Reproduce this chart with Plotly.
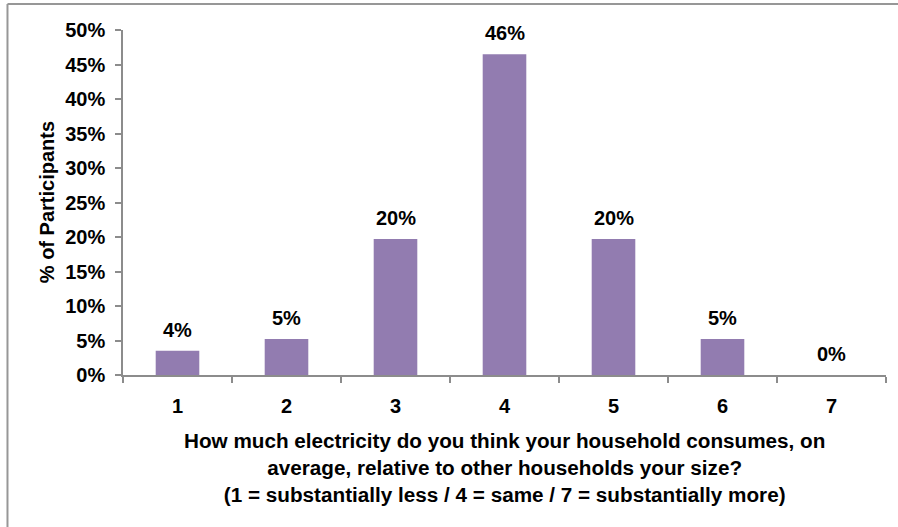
import plotly.graph_objects as go

categories = ["1", "2", "3", "4", "5", "6", "7"]
shares = [0.035, 0.052, 0.197, 0.465, 0.197, 0.052, 0.0]
labels = ["4%", "5%", "20%", "46%", "20%", "5%", "0%"]
y_ticks = [0, 0.05, 0.10, 0.15, 0.20, 0.25, 0.30, 0.35, 0.40, 0.45, 0.50]
y_tick_text = ["0%", "5%", "10%", "15%", "20%", "25%", "30%", "35%", "40%", "45%", "50%"]

FONT = "Liberation Sans, Arial, sans-serif"
BAR = "#927CB0"
AXIS = "#8C8C8C"

fig = go.Figure()
fig.add_trace(go.Bar(x=categories, y=shares, marker=dict(color=BAR, line=dict(width=0)),
                     hoverinfo="skip"))

for i, (v, t) in enumerate(zip(shares, labels)):
    fig.add_annotation(x=i, y=v, text=f"<b>{t}</b>", showarrow=False,
                       yanchor="middle", yshift=21,
                       font=dict(family=FONT, size=20, color="black"))

fig.add_annotation(
    x=0.5, y=-0.152, xref="paper", yref="paper", yanchor="top", xanchor="center",
    showarrow=False, align="center",
    text="<b>How much electricity do you think your household consumes, on<br>"
         "average, relative to other households your size?<br>"
         "(1 = substantially less / 4 = same / 7 = substantially more)</b>",
    font=dict(family=FONT, size=20.7, color="black"))

fig.add_annotation(
    x=-0.1, y=0.5, xref="paper", yref="paper", xanchor="center", yanchor="middle",
    showarrow=False, textangle=-90, text="<b>% of Participants</b>",
    font=dict(family=FONT, size=20, color="black"))

# outer frame (top and left edges visible)
fig.add_shape(type="line", xref="paper", yref="paper", x0=-0.1514, x1=1.06, y0=1.0754, y1=1.0754,
              line=dict(color="#979797", width=2))
fig.add_shape(type="line", xref="paper", yref="paper", x0=-0.1514, x1=-0.1514, y0=1.0754, y1=-0.5,
              line=dict(color="#979797", width=2))

fig.update_layout(
    width=898, height=527,
    margin=dict(l=123, r=12, t=30, b=152),
    paper_bgcolor="white", plot_bgcolor="white",
    bargap=0.6, showlegend=False,
    font=dict(family=FONT, size=20, color="black"),
)
fig.update_xaxes(
    type="category", showline=True, linecolor=AXIS, linewidth=1.5,
    ticks="outside", tickson="boundaries", ticklen=6, tickcolor=AXIS, tickwidth=1.5,
    tickfont=dict(family=FONT, size=20, color="black"),
    tickprefix="<b>", ticksuffix="</b>",
    ticklabelstandoff=12,
    showgrid=False, zeroline=False,
)
fig.update_yaxes(
    range=[0, 0.5], tickvals=y_ticks, ticktext=[f"<b>{t}</b>" for t in y_tick_text],
    showline=True, linecolor=AXIS, linewidth=1.5,
    ticks="outside", ticklen=6, tickcolor=AXIS, tickwidth=1.5,
    tickfont=dict(family=FONT, size=20, color="black"),
    ticklabelstandoff=6,
    showgrid=False, zeroline=False,
)

fig.write_html("out.html")
